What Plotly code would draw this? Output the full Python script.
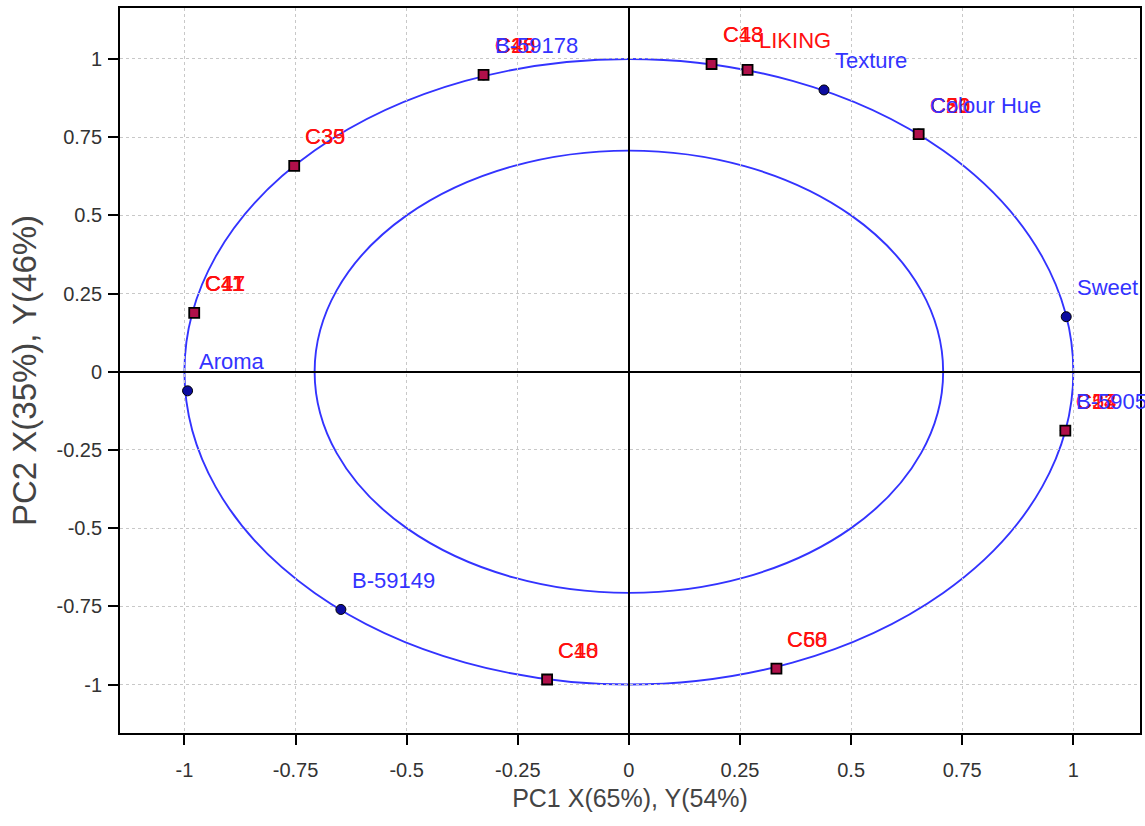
import plotly.graph_objects as go

# ---- data ----
# X variables (blue) : name, PC1, PC2
x_vars = ["B-59178", "Texture", "Colour Hue", "Sweet", "Aroma", "B-59058", "B-59149"]
x_vars_pc1 = [-0.327, 0.439, 0.652, 0.984, -0.993, 0.982, -0.648]
x_vars_pc2 = [0.949, 0.901, 0.760, 0.176, -0.061, -0.188, -0.760]

# Y variable / samples (red squares), several samples share a location
sample_groups = [
    ["C10", "C28", "C46"],
    ["C13", "C48"],
    ["LIKING"],
    ["C20", "C31", "C56"],
    ["C35", "C39"],
    ["C11", "C41", "C47"],
    ["C14", "C27", "C53"],
    ["C18", "C40"],
    ["C58", "C60"],
]
group_pc1 = [-0.327, 0.186, 0.267, 0.652, -0.753, -0.978, 0.982, -0.184, 0.332]
group_pc2 = [0.949, 0.984, 0.965, 0.760, 0.658, 0.188, -0.188, -0.984, -0.949]

circle_radii = [1.0, 0.7071]

tick_vals = [-1, -0.75, -0.5, -0.25, 0, 0.25, 0.5, 0.75, 1]
tick_text = ["-1", "-0.75", "-0.5", "-0.25", "0", "0.25", "0.5", "0.75", "1"]

BLUE = "#3333ff"
RED = "#ff0f0f"
FONT = "Liberation Sans"

fig = go.Figure()

# blue variable points
fig.add_trace(go.Scatter(
    x=x_vars_pc1, y=x_vars_pc2, mode="markers",
    marker=dict(symbol="circle", size=10, color="#0c0ca0",
                line=dict(color="#000000", width=1)),
    hoverinfo="skip", showlegend=False, cliponaxis=False))

# red squares
fig.add_trace(go.Scatter(
    x=group_pc1, y=group_pc2, mode="markers",
    marker=dict(symbol="square", size=10, color="#b0104a",
                line=dict(color="#000000", width=1.8)),
    hoverinfo="skip", showlegend=False, cliponaxis=False))

# circles
shapes = []
for r in circle_radii:
    shapes.append(dict(type="circle", xref="x", yref="y", x0=-r, x1=r, y0=-r, y1=r,
                       line=dict(color=BLUE, width=1.9), layer="below"))

annotations = []
for names, gx, gy in zip(sample_groups, group_pc1, group_pc2):
    for n in names:
        annotations.append(dict(x=gx, y=gy, xref="x", yref="y", text=n, showarrow=False,
                                xanchor="left", yanchor="middle", xshift=9, yshift=29,
                                font=dict(family=FONT, size=22, color=RED)))
for n, vx, vy in zip(x_vars, x_vars_pc1, x_vars_pc2):
    annotations.append(dict(x=vx, y=vy, xref="x", yref="y", text=n, showarrow=False,
                            xanchor="left", yanchor="middle", xshift=9, yshift=29,
                            font=dict(family=FONT, size=22, color=BLUE)))

axis_common = dict(
    tickmode="array", tickvals=tick_vals, ticktext=tick_text,
    showgrid=True, gridcolor="#c8c8c8", griddash="dot", gridwidth=1,
    zeroline=True, zerolinecolor="#000000", zerolinewidth=1.8,
    showline=True, mirror=True, linecolor="#000000", linewidth=1.8,
    ticks="outside", ticklen=10, tickwidth=1.6, tickcolor="#000000",
    tickfont=dict(family=FONT, size=20, color="#333333"),
)

fig.update_layout(
    width=1145, height=826,
    margin=dict(l=120, r=3, t=8, b=93),
    paper_bgcolor="white", plot_bgcolor="white",
    shapes=shapes, annotations=annotations,
    xaxis=dict(range=[-1.145, 1.15], ticklabelstandoff=8,
               title=dict(text="PC1 X(65%), Y(54%)", font=dict(family=FONT, size=25, color="#444444"), standoff=10),
               **axis_common),
    yaxis=dict(range=[-1.155, 1.163], ticklabelstandoff=2,
               title=dict(text="PC2 X(35%), Y(46%)", font=dict(family=FONT, size=33, color="#444444"), standoff=10),
               **axis_common),
)

fig.write_html("out.html")
